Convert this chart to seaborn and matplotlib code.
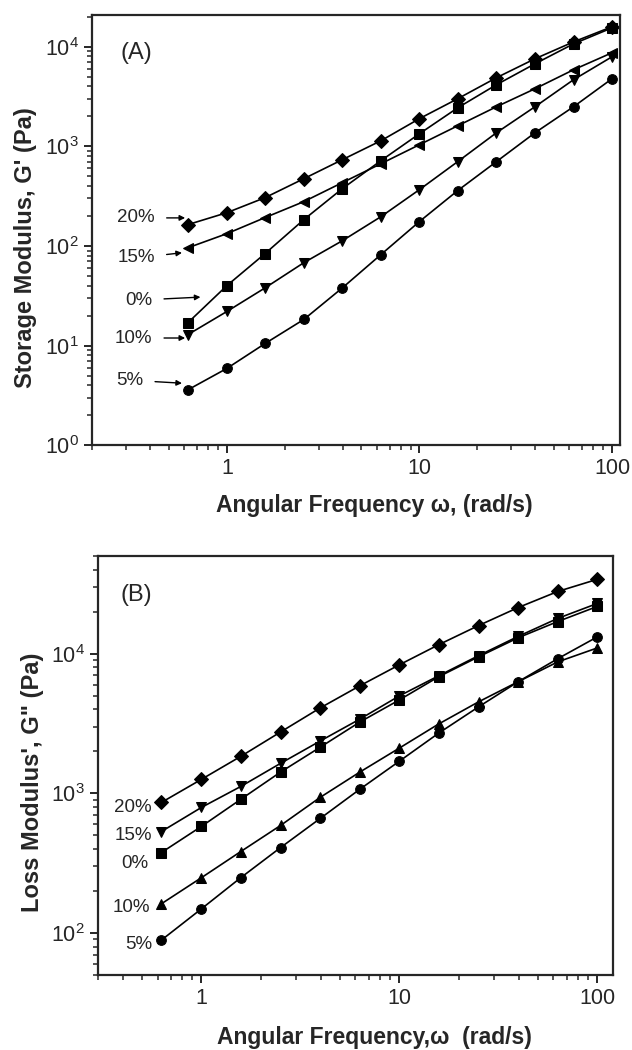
import pandas as pd
import seaborn as sns
import matplotlib.pyplot as plt

# angular frequency (rad/s), same sweep for both panels
omega = [0.628, 1.0, 1.58, 2.51, 3.98, 6.31, 10.0, 15.8, 25.1, 39.8, 63.1, 100.0]

# (A) storage modulus G' (Pa)
gp_20 = [164, 216, 306, 474, 736, 1140, 1900, 3010, 4890, 7580, 11200, 15900]
gp_15 = [96, 133, 193, 279, 433, 670, 1040, 1610, 2500, 3790, 5880, 8710]
gp_0 = [17, 40, 84, 184, 377, 719, 1340, 2440, 4160, 6750, 10700, 15500]
gp_10 = [12.9, 22, 38, 68, 113, 197, 368, 703, 1370, 2500, 4670, 7940]
gp_5 = [3.6, 5.9, 10.5, 18.3, 38, 82, 176, 360, 703, 1370, 2500, 4780]

# (B) loss modulus G'' (Pa)
gpp_20 = [861, 1260, 1840, 2750, 4090, 5890, 8330, 11600, 15900, 21400, 27900, 34100]
gpp_15 = [533, 793, 1120, 1640, 2370, 3400, 4990, 6950, 9680, 13300, 17900, 22900]
gpp_0 = [377, 580, 906, 1420, 2140, 3240, 4670, 6840, 9500, 13000, 17000, 21800]
gpp_10 = [162, 249, 383, 589, 936, 1420, 2110, 3140, 4520, 6300, 8740, 11000]
gpp_5 = [89, 149, 249, 409, 661, 1070, 1700, 2700, 4160, 6300, 9210, 13200]

labels = ["20%", "15%", "0%", "10%", "5%"]


def to_long(series):
    rows = []
    for lab, vals in zip(labels, series):
        for w, v in zip(omega, vals):
            rows.append({"omega": w, "G": v, "Content": lab})
    return pd.DataFrame(rows)


df_a = to_long([gp_20, gp_15, gp_0, gp_10, gp_5])
df_b = to_long([gpp_20, gpp_15, gpp_0, gpp_10, gpp_5])

markers_a = {"20%": "D", "15%": "<", "0%": "s", "10%": "v", "5%": "o"}
markers_b = {"20%": "D", "15%": "v", "0%": "s", "10%": "^", "5%": "o"}
black = {lab: "black" for lab in labels}

sns.set_style("ticks")
plt.rcParams["font.family"] = ["Liberation Sans", "DejaVu Sans"]
plt.rcParams["axes.linewidth"] = 1.6

fig = plt.figure(figsize=(6.32, 10.5), dpi=100)
ax_a = fig.add_axes([0.146, 0.576, 0.835, 0.410])
ax_b = fig.add_axes([0.155, 0.0714, 0.815, 0.399])

for ax, df, mk in [(ax_a, df_a, markers_a), (ax_b, df_b, markers_b)]:
    ax.set_xscale("log")
    ax.set_yscale("log")
    sns.lineplot(
        data=df, x="omega", y="G",
        hue="Content", style="Content",
        markers=mk, dashes=False, palette=black,
        markersize=7, markeredgecolor="black", linewidth=1.2,
        errorbar=None, sort=True, legend=False, ax=ax,
    )
    ax.tick_params(which="major", length=6, width=1.4, labelsize=15.5, direction="out",
                   top=False, right=False)
    ax.tick_params(which="minor", length=3.5, width=1.1, direction="out",
                   top=False, right=False)
    ax.set_xticks([1, 10, 100])
    ax.set_xticklabels(["1", "10", "100"])
    for s in ax.spines.values():
        s.set_linewidth(1.6)

# panel A
ax_a.set_xlim(0.2, 110)
ax_a.set_ylim(1, 21000)
ax_a.set_xlabel("Angular Frequency \u03c9, (rad/s)", fontsize=16.5, fontweight="bold")
ax_a.set_ylabel("Storage Modulus, G' (Pa)", fontsize=17, fontweight="bold")
ax_a.xaxis.set_label_coords(0.535, -0.114)
ax_a.yaxis.set_label_coords(-0.104, 0.46)
ax_a.text(0.053, 0.912, "(A)", transform=ax_a.transAxes, fontsize=17, va="center", ha="left")

text_a = [(0.119, 0.528), (0.119, 0.435), (0.114, 0.337), (0.114, 0.249), (0.097, 0.151)]
tips_a = [(0.176, 0.528), (0.170, 0.447), (0.205, 0.344), (0.176, 0.249), (0.170, 0.144)]
for lab, t, p in zip(labels, text_a, tips_a):
    ax_a.annotate(
        lab, xy=p, xycoords="axes fraction", xytext=t, textcoords="axes fraction",
        ha="right", va="center", fontsize=13.5,
        arrowprops=dict(arrowstyle="-|>", color="black", lw=1.0,
                        shrinkA=6, shrinkB=0, mutation_scale=8),
    )

# panel B
ax_b.set_xlim(0.3, 120)
ax_b.set_ylim(50, 50000)
ax_b.set_xlabel("Angular Frequency,\u03c9  (rad/s)", fontsize=16.5, fontweight="bold")
ax_b.set_ylabel("Loss Modulus', G\" (Pa)", fontsize=17, fontweight="bold")
ax_b.xaxis.set_label_coords(0.537, -0.122)
ax_b.yaxis.set_label_coords(-0.105, 0.46)
ax_b.text(0.043, 0.907, "(B)", transform=ax_b.transAxes, fontsize=17, va="center", ha="left")

text_b = [(0.105, 0.401), (0.105, 0.334), (0.098, 0.267), (0.102, 0.162), (0.105, 0.072)]
for lab, t in zip(labels, text_b):
    ax_b.text(t[0], t[1], lab, transform=ax_b.transAxes, ha="right", va="center", fontsize=13.5)

fig.savefig("out.png", dpi=100)
plt.close()
